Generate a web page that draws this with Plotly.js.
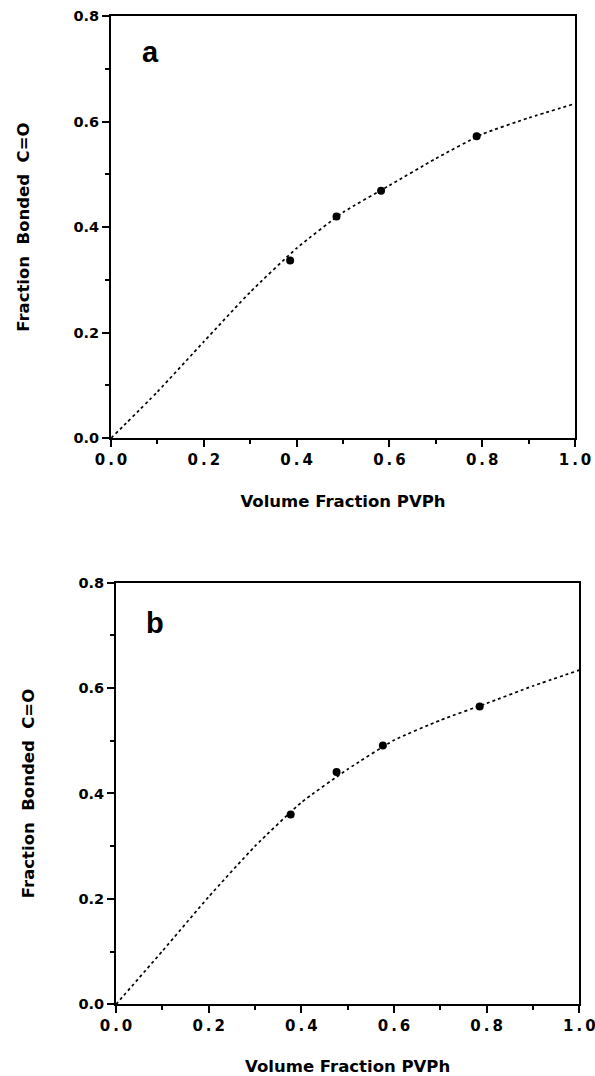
<!DOCTYPE html>
<html>
<head>
<meta charset="utf-8">
<script src="https://cdn.plot.ly/plotly-3.0.1.min.js"></script>
<style>html,body{margin:0;padding:0;background:#fff;}</style>
</head>
<body>
<div id="chart" style="width:595px;height:1076px;"></div>
<script>
// Panel a
const aCurveX = [0.0, 0.1, 0.2, 0.3, 0.4, 0.5, 0.6, 0.7, 0.8, 0.9, 1.0];
const aCurveY = [0.0, 0.088, 0.183, 0.277, 0.360, 0.428, 0.479, 0.530, 0.576, 0.607, 0.634];
const aPointsX = [0.386, 0.486, 0.582, 0.788];
const aPointsY = [0.337, 0.420, 0.469, 0.572];
// Panel b
const bCurveX = [0.0, 0.1, 0.2, 0.3, 0.4, 0.5, 0.6, 0.7, 0.8, 0.9, 1.0];
const bCurveY = [0.0, 0.101, 0.204, 0.300, 0.383, 0.446, 0.501, 0.539, 0.571, 0.604, 0.634];
const bPointsX = [0.377, 0.476, 0.576, 0.785];
const bPointsY = [0.360, 0.441, 0.491, 0.565];

const xTickVals = [0.0, 0.2, 0.4, 0.6, 0.8, 1.0];
const xTickText = ["0\u2009.\u20090", "0\u2009.\u20092", "0\u2009.\u20094", "0\u2009.\u20096", "0\u2009.\u20098", "1\u2009.\u20090"];
const yTickVals = [0.0, 0.2, 0.4, 0.6, 0.8];
const yTickText = ["0.0", "0.2", "0.4", "0.6", "0.8"];
const xTitle = "Volume Fraction PVPh";
const yTitle = "Fraction&nbsp;&nbsp;Bonded&nbsp;&nbsp;C=O";
const panelLabels = ["a", "b"];

const FONT = "DejaVu Sans, Liberation Sans, Arial, sans-serif";
const FONT2 = "Liberation Sans, Arial, sans-serif";

const traces = [
  {x: aCurveX, y: aCurveY, xaxis: 'x', yaxis: 'y', mode: 'lines',
   line: {color: '#000', width: 1.7, dash: 'dot', shape: 'spline', smoothing: 0.5}, hoverinfo: 'skip'},
  {x: aPointsX, y: aPointsY, xaxis: 'x', yaxis: 'y', mode: 'markers',
   marker: {color: '#000', size: 8, symbol: 'circle'}},
  {x: bCurveX, y: bCurveY, xaxis: 'x2', yaxis: 'y2', mode: 'lines',
   line: {color: '#000', width: 1.7, dash: 'dot', shape: 'spline', smoothing: 0.5}, hoverinfo: 'skip'},
  {x: bPointsX, y: bPointsY, xaxis: 'x2', yaxis: 'y2', mode: 'markers',
   marker: {color: '#000', size: 8, symbol: 'circle'}}
];

function xax(domain, anchor) {
  return {
    domain: domain, anchor: anchor, range: [0, 1], autorange: false,
    showgrid: false, zeroline: false, showline: true, mirror: true,
    linecolor: '#000', linewidth: 2,
    ticks: 'outside', ticklen: 7, tickwidth: 2, tickcolor: '#000',
    tickmode: 'array', tickvals: xTickVals, ticktext: xTickText,
    ticklabeloverflow: 'allow',
    minor: {dtick: 0.1, tick0: 0, ticks: 'outside', ticklen: 4, tickwidth: 2, tickcolor: '#000', showgrid: false},
    tickfont: {family: FONT, size: 15, color: '#000', weight: 'bold'},
    title: {text: xTitle, standoff: 27, font: {family: FONT, size: 16.5, color: '#000', weight: 'bold'}}
  };
}
function yax(domain, anchor) {
  return {
    domain: domain, anchor: anchor, range: [0, 0.8], autorange: false,
    showgrid: false, zeroline: false, showline: true, mirror: true,
    linecolor: '#000', linewidth: 2,
    ticks: 'outside', ticklen: 7, tickwidth: 2, tickcolor: '#000',
    tickmode: 'array', tickvals: yTickVals, ticktext: yTickText,
    ticklabeloverflow: 'allow',
    minor: {dtick: 0.1, tick0: 0, ticks: 'outside', ticklen: 4, tickwidth: 2, tickcolor: '#000', showgrid: false},
    tickfont: {family: FONT, size: 14.5, color: '#000', weight: 'bold'},
    title: {text: yTitle, standoff: 40, font: {family: FONT, size: 16.5, color: '#000', weight: 'bold'}}
  };
}

const layout = {
  width: 595, height: 1076,
  margin: {l: 0, r: 0, t: 0, b: 0},
  paper_bgcolor: '#fff', plot_bgcolor: '#fff',
  showlegend: false,
  xaxis: xax([0.1866, 0.9664], 'y'),
  yaxis: yax([0.5927, 0.9851], 'x'),
  xaxis2: xax([0.1950, 0.9736], 'y2'),
  yaxis2: yax([0.0666, 0.4585], 'x2'),
  annotations: [
    {text: panelLabels[0], xref: 'x domain', yref: 'y domain', x: 0.085, y: 0.915,
     xanchor: 'center', yanchor: 'middle', showarrow: false,
     font: {family: FONT2, size: 29, color: '#000', weight: 'bold'}},
    {text: panelLabels[1], xref: 'x2 domain', yref: 'y2 domain', x: 0.085, y: 0.905,
     xanchor: 'center', yanchor: 'middle', showarrow: false,
     font: {family: FONT2, size: 29, color: '#000', weight: 'bold'}}
  ]
};

Plotly.newPlot('chart', traces, layout, {displayModeBar: false, staticPlot: true});
</script>
</body>
</html>
